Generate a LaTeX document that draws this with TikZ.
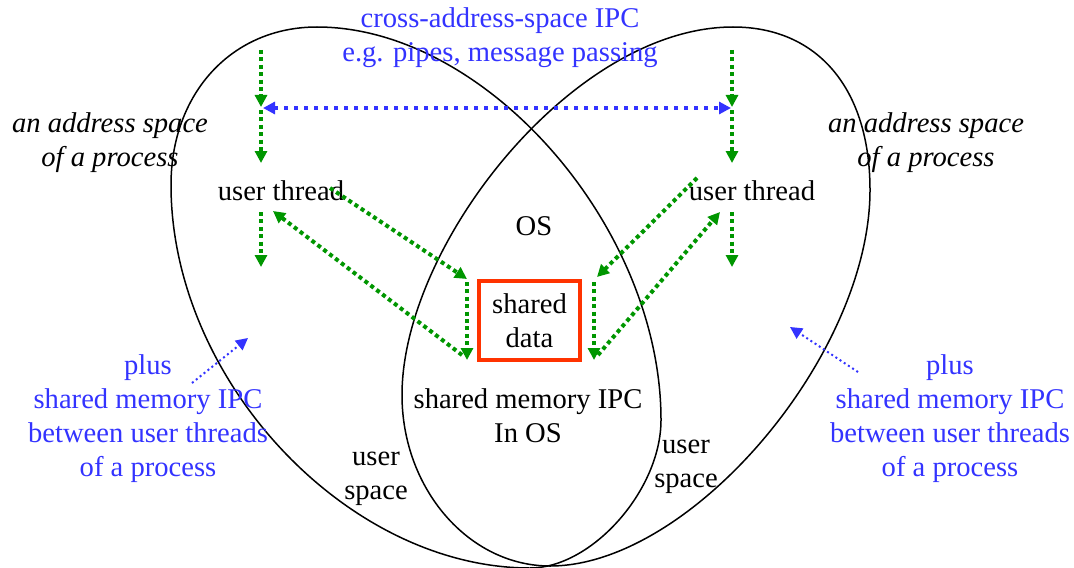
\documentclass[tikz,border=0pt]{standalone}
\usepackage{fontspec}
\setmainfont{Liberation Serif}
\usetikzlibrary{arrows.meta}
\definecolor{ipcblue}{RGB}{51,51,255}
\definecolor{thgreen}{RGB}{0,150,0}
\definecolor{boxred}{RGB}{255,51,0}
\begin{document}
\begin{tikzpicture}[x=0.5pt,y=-0.5pt,
  txt/.style={font=\fontsize{14.3}{17}\selectfont, inner sep=0pt, align=center},
  bluetxt/.style={txt, text=ipcblue},
  itxt/.style={txt, font=\fontsize{14.3}{17}\selectfont\itshape},
  space/.style={line width=0.75pt, black},
  garrow/.style={draw=thgreen, line width=2pt, dash pattern=on 2pt off 1.7pt, -{Triangle[length=6pt,width=6pt]}},
  barrow/.style={draw=ipcblue, line width=2pt, dash pattern=on 2pt off 3pt, {Triangle[length=6pt,width=6pt]}-{Triangle[length=6pt,width=6pt]}},
  sbarrow/.style={draw=ipcblue, line width=1pt, dash pattern=on 1pt off 1.5pt, -{Triangle[length=6pt,width=6pt]}},
  databox/.style={txt, draw=boxred, line width=2pt, minimum width=50.5pt, minimum height=39.5pt}
]
\useasboundingbox (0,0) rectangle (1074,567);

% address space of the left process
\draw[space] (317,27) .. controls (232,27) and (171,93) .. (171,185)
  .. controls (171,380) and (347,568) .. (530,568)
  .. controls (592,568) and (661,490) .. (661,420)
  .. controls (661,227) and (486,27) .. cycle;
% address space of the right process
\draw[space] (733,27) .. controls (818,27) and (870,89) .. (870,190)
  .. controls (870,355) and (691,566) .. (550,566)
  .. controls (469,566) and (402,489) .. (402,395)
  .. controls (402,245) and (573,27) .. cycle;

% texts
\node[bluetxt] (cross) at (500,38) {cross-address-space IPC\\e.g. pipes, message passing};
\node[itxt] (asl) at (110,143) {an address space\\of a process};
\node[itxt] (asr) at (926,143) {an address space\\of a process};
\node[txt] (utl) at (281,191) {user thread};
\node[txt] (utr) at (752,191) {user thread};
\node[txt] (os) at (534,226) {OS};
\node[databox] (data) at (529.5,320.5) {shared\\data};
\node[txt] (shm) at (528,416) {shared memory IPC\\In OS};
\node[txt] (usl) at (376,479) {user\\space};
\node[txt] (usr) at (686,467) {user\\space};
\node[bluetxt] (plusl) at (148,419) {plus\\shared memory IPC\\between user threads\\of a process};
\node[bluetxt] (plusr) at (950,419) {plus\\shared memory IPC\\between user threads\\of a process};

% coordinates for connector ends
\coordinate (la0) at (261,50);
\coordinate (la1) at (261,107);
\coordinate (la2) at (261,110);
\coordinate (la3) at (261,163);
\coordinate (la4) at (261,212);
\coordinate (la5) at (261,267);
\coordinate (ra0) at (732,50);
\coordinate (ra1) at (732,107);
\coordinate (ra2) at (732,110);
\coordinate (ra3) at (732,163);
\coordinate (ra4) at (732,212);
\coordinate (ra5) at (732,267);
\coordinate (bl) at (263,108);
\coordinate (br) at (731,108);
\coordinate (d1s) at (330,188);
\coordinate (d1e) at (467,279);
\coordinate (d2s) at (467,282);
\coordinate (d2e) at (467,360);
\coordinate (d3s) at (462,355);
\coordinate (d3e) at (273,211);
\coordinate (d4s) at (697,178);
\coordinate (d4e) at (597,277);
\coordinate (d5s) at (594,282);
\coordinate (d5e) at (594,360);
\coordinate (d6s) at (598,355);
\coordinate (d6e) at (720,212);
\coordinate (b1s) at (192,383);
\coordinate (b1e) at (248,338);
\coordinate (b2s) at (858,372);
\coordinate (b2e) at (790,327);

% connectors
\draw[garrow] (la0) -- (la1);
\draw[garrow] (la2) -- (la3);
\draw[garrow] (la4) -- (la5);
\draw[garrow] (ra0) -- (ra1);
\draw[garrow] (ra2) -- (ra3);
\draw[garrow] (ra4) -- (ra5);
\draw[barrow] (bl) -- (br);
\draw[garrow] (d1s) -- (d1e);
\draw[garrow] (d2s) -- (d2e);
\draw[garrow] (d3s) -- (d3e);
\draw[garrow] (d4s) -- (d4e);
\draw[garrow] (d5s) -- (d5e);
\draw[garrow] (d6s) -- (d6e);
\draw[sbarrow] (b1s) -- (b1e);
\draw[sbarrow] (b2s) -- (b2e);
\end{tikzpicture}
\end{document}
